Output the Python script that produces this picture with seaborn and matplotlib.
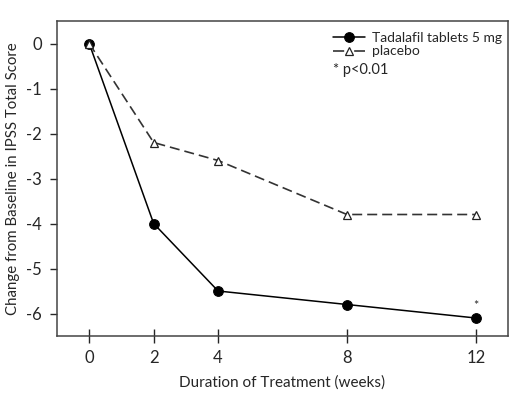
import matplotlib
matplotlib.use("Agg")
import matplotlib.pyplot as plt
import seaborn as sns
import pandas as pd

weeks = [0, 2, 4, 8, 12]
tadalafil = [0.0, -4.0, -5.5, -5.8, -6.1]
placebo = [0.0, -2.2, -2.6, -3.8, -3.8]
x_ticks = [0, 2, 4, 8, 12]
y_ticks = [0, -1, -2, -3, -4, -5, -6]
series_names = ["Tadalafil tablets 5 mg", "placebo"]

sns.set_style("white")
plt.rcParams['font.family'] = ['Lato', 'DejaVu Sans']

df = pd.DataFrame({
    "week": weeks * 2,
    "value": tadalafil + placebo,
    "group": [series_names[0]] * len(weeks) + [series_names[1]] * len(weeks),
})

fig = plt.figure(figsize=(5.18, 3.96), dpi=100)
ax = fig.add_axes([57/518, 60/396, (508-57)/518, (336-21)/396])

sns.lineplot(data=df[df.group == series_names[0]], x="week", y="value", ax=ax,
             color="black", lw=1.1, marker="o", markersize=7, markeredgecolor="black",
             label=series_names[0])
sns.lineplot(data=df[df.group == series_names[1]], x="week", y="value", ax=ax,
             color="#333333", lw=1.2, linestyle=(0, (6, 3)), marker="^", markersize=6,
             markerfacecolor="white", markeredgecolor="#222222", markeredgewidth=0.9,
             label=series_names[1])

ax.set_xlim(-1, 13)
ax.set_ylim(-6.5, 0.5)
ax.set_xticks(x_ticks)
ax.set_yticks(y_ticks)
ax.set_xticklabels([str(v) for v in x_ticks])
ax.set_yticklabels([str(v) for v in y_ticks])
ax.tick_params(axis="y", direction="out", length=5, width=1, labelsize=12, pad=6, left=True)
ax.tick_params(axis="x", direction="inout", length=10, width=1, labelsize=12, pad=5, bottom=True)
for s in ax.spines.values():
    s.set_color("#444444")
    s.set_linewidth(1.1)

ax.set_xlabel("Duration of Treatment (weeks)", fontsize=11, labelpad=7)
ax.set_ylabel("Change from Baseline in IPSS Total Score", fontsize=10.8, labelpad=4)

ax.annotate("*", xy=(weeks[-1], tadalafil[-1]), xytext=(0, 4), textcoords="offset points",
            ha="center", va="bottom", fontsize=9)

leg = ax.legend(loc="upper left", bbox_to_anchor=(0.612, 0.966), frameon=False, fontsize=10,
                handlelength=2.3, borderaxespad=0, borderpad=0, labelspacing=0.12,
                handletextpad=0.5)
leg_lines = leg.get_lines()
if len(leg_lines) > 1:
    leg_lines[1].set_dashes([6.7, 6.0])
ax.text(0.612, 0.845, "* p<0.01", transform=ax.transAxes, fontsize=10.5, va="center", ha="left")

fig.savefig("out.png", dpi=100)
